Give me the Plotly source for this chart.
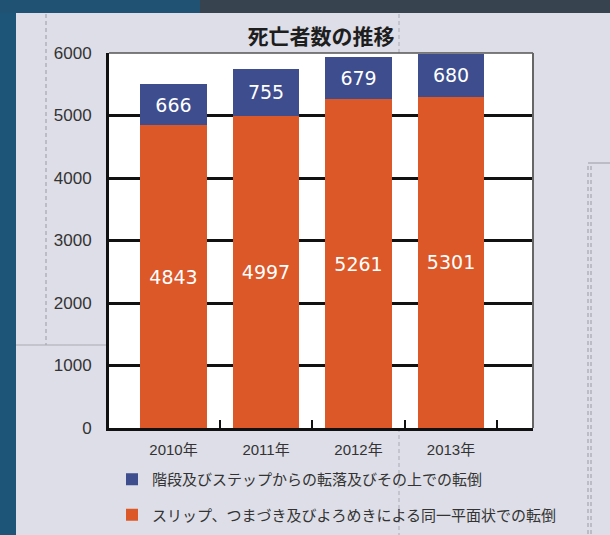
import plotly.graph_objects as go

# ---- data ----
years = ["2010年", "2011年", "2012年", "2013年"]
slip_trip = [4843, 4997, 5261, 5301]
stairs_fall = [666, 755, 679, 680]
name_stairs = "階段及びステップからの転落及びその上での転倒"
name_slip = "スリップ、つまづき及びよろめきによる同一平面状での転倒"
title_text = "死亡者数の推移"
y_tickvals = [0, 1000, 2000, 3000, 4000, 5000, 6000]

# ---- layout constants ----
W, H = 610, 535
L, R, T, B = 109, 533, 53, 428
BLUE = "#3d4d8e"
ORANGE = "#dc5828"
PANEL = "#dddee7"
JP = "Noto Sans CJK JP"
NUM = "Liberation Sans, Noto Sans CJK JP"


def px(x):
    return (x - L) / (R - L)


def py(y):
    return (B - y) / (B - T)


xpos = list(range(len(years)))
boundaries = [i + 0.5 for i in xpos]

fig = go.Figure()
fig.add_trace(go.Bar(
    x=xpos, y=slip_trip, name=name_slip, marker_color=ORANGE,
    marker_line_width=0, width=0.72, legendrank=2, legendgroup="slip",
    texttemplate="%{y}", textposition="inside", insidetextanchor="middle",
    textfont=dict(color="white", size=19, family="DejaVu Sans"),
))
fig.add_trace(go.Bar(
    x=xpos, y=stairs_fall, name=name_stairs, marker_color=BLUE,
    marker_line_width=0, width=0.72, legendrank=1, legendgroup="stairs",
    texttemplate="%{y}", textposition="inside", insidetextanchor="middle",
    textfont=dict(color="white", size=19, family="DejaVu Sans"),
))

shapes = [
    # dark left and top strips
    dict(type="rect", xref="paper", yref="paper", x0=px(0), x1=px(16), y0=py(H), y1=py(0),
         fillcolor="#1d5579", line_width=0, layer="below"),
    dict(type="rect", xref="paper", yref="paper", x0=px(0), x1=px(W), y0=py(13), y1=py(0),
         fillcolor="#37434f", line_width=0, layer="below"),
    dict(type="rect", xref="paper", yref="paper", x0=px(0), x1=px(200), y0=py(13), y1=py(0),
         fillcolor="#1f5273", line_width=0, layer="below"),
    # decorative panel lines
    dict(type="line", xref="paper", yref="paper", x0=px(46), x1=px(46), y0=py(14), y1=py(345),
         line=dict(color="#9a9aa4", width=1, dash="4px,3px"), layer="below"),
    dict(type="line", xref="paper", yref="paper", x0=px(16), x1=px(L), y0=py(345), y1=py(345),
         line=dict(color="#a9aab2", width=1), layer="below"),
    dict(type="line", xref="paper", yref="paper", x0=px(399), x1=px(399), y0=py(14), y1=py(T),
         line=dict(color="#a9aab2", width=1, dash="4px,3px"), layer="below"),
    dict(type="line", xref="paper", yref="paper", x0=px(399), x1=px(399), y0=py(B), y1=py(H),
         line=dict(color="#a9aab2", width=1, dash="4px,3px"), layer="below"),
    dict(type="line", xref="paper", yref="paper", x0=px(588), x1=px(610), y0=py(163), y1=py(163),
         line=dict(color="#9a9aa4", width=1), layer="below"),
    dict(type="line", xref="paper", yref="paper", x0=px(588), x1=px(588), y0=py(166), y1=py(H),
         line=dict(color="#9a9aa4", width=1, dash="4px,3px"), layer="below"),
    dict(type="line", xref="paper", yref="paper", x0=px(591), x1=px(591), y0=py(166), y1=py(H),
         line=dict(color="#9a9aa4", width=1, dash="4px,3px"), layer="below"),
    # thin gray top/right plot border
    dict(type="line", xref="paper", yref="paper", x0=0, x1=1, y0=1, y1=1,
         line=dict(color="#555", width=1.5), layer="above"),
    dict(type="line", xref="paper", yref="paper", x0=1, x1=1, y0=0, y1=1,
         line=dict(color="#666", width=2), layer="above"),
]

fig.update_layout(
    width=W, height=H,
    margin=dict(l=L, r=W - R, t=T, b=H - B, pad=0, autoexpand=False),
    paper_bgcolor=PANEL, plot_bgcolor="white",
    barmode="stack",
    title=dict(text="<b>" + title_text + "</b>", x=0.5, xref="paper",
               y=1 - 37 / H, yref="container", yanchor="middle", xanchor="center",
               font=dict(family=JP, size=21, color="#1e1e1e")),
    xaxis=dict(
        range=[-0.697, 3.886], tickmode="array", tickvals=xpos, ticktext=years,
        ticks="", showgrid=False, zeroline=False,
        showline=True, linecolor="#111", linewidth=3,
        tickfont=dict(family=NUM, size=15, color="#333"),
        ticklabelstandoff=6,
        minor=dict(tickmode="array", tickvals=boundaries, ticks="inside",
                   ticklen=8, tickwidth=2, tickcolor="#111", showgrid=False),
    ),
    yaxis=dict(
        range=[0, 6000], tickmode="array", tickvals=y_tickvals,
        showgrid=True, gridcolor="#111", gridwidth=2.5, zeroline=False,
        showline=True, linecolor="#111", linewidth=3, ticks="",
        tickfont=dict(family=NUM, size=17, color="#333"),
        ticklabelstandoff=11,
    ),
    legend=dict(
        x=px(112), y=py(497), xanchor="left", yanchor="middle",
        orientation="v", traceorder="grouped", tracegroupgap=13,
        itemwidth=30,
        font=dict(family=JP, size=15, color="#333"),
        bgcolor="rgba(0,0,0,0)",
    ),
    shapes=shapes,
    showlegend=True,
)

fig.write_html(
    "out.html",
    config={"displayModeBar": False},
    post_script="document.body.style.margin='0';document.body.style.padding='0';",
)
